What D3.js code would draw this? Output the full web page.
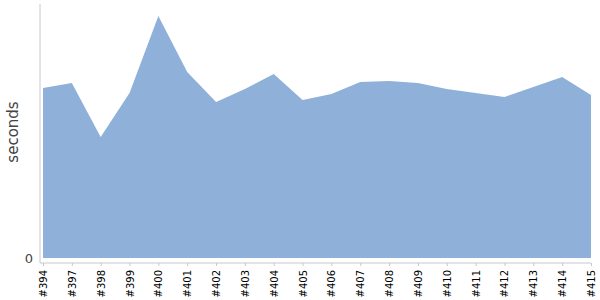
<!DOCTYPE html>
<html>
<head>
<meta charset="utf-8">
<script src="https://cdn.jsdelivr.net/npm/d3@7"></script>
<style>
body { margin: 0; background: #fff; }
</style>
</head>
<body>
<div id="chart"></div>
<script>
// build numbers and their run time (seconds)
var builds = ["#394","#397","#398","#399","#400","#401","#402","#403","#404","#405",
              "#406","#407","#408","#409","#410","#411","#412","#413","#414","#415"];
var seconds = [66.9, 68.9, 47.6, 65.0, 95.3, 73.2, 61.4, 66.5, 72.4, 62.2,
               64.6, 69.3, 69.7, 68.9, 66.5, 65.0, 63.4, 67.3, 71.3, 64.2];
var yTicks = [0];

var width = 600, height = 300;

var svg = d3.select("#chart").append("svg")
    .attr("width", width)
    .attr("height", height)
    .style("font-family", "DejaVu Sans, Verdana, sans-serif");

var x = d3.scalePoint()
    .domain(builds)
    .range([43, 591]);

var y = d3.scaleLinear()
    .domain([0, 100])
    .range([258, 4]);

var data = builds.map((b, i) => ({build: b, value: seconds[i]}));

svg.append("path")
    .datum(data)
    .attr("fill", "#8fb1d9")
    .attr("d", d3.area()
        .x(d => x(d.build))
        .y0(y(0))
        .y1(d => y(d.value)));

// y axis line
svg.append("line")
    .attr("x1", 40).attr("x2", 40)
    .attr("y1", 4).attr("y2", 263)
    .attr("stroke", "#c8c8c8");

// x axis
var xAxis = svg.append("g")
    .attr("transform", "translate(0,263)")
    .call(d3.axisBottom(x).tickSize(3).tickSizeOuter(0));
xAxis.select(".domain").remove();
xAxis.append("line")
    .attr("x1", 40).attr("x2", 591)
    .attr("stroke", "#c8c8c8");
xAxis.selectAll(".tick line").attr("stroke", "#c8c8c8");
xAxis.selectAll(".tick text")
    .attr("fill", "#000")
    .style("font-size", "10px")
    .style("font-family", "DejaVu Sans, Verdana, sans-serif")
    .attr("text-anchor", "end")
    .attr("transform", "rotate(-90)")
    .attr("x", -7)
    .attr("y", 0)
    .attr("dy", "0.35em");

// y tick labels
svg.selectAll(".ytick")
    .data(yTicks)
    .enter().append("text")
    .attr("class", "ytick")
    .attr("x", 33)
    .attr("y", d => y(d))
    .attr("dy", "0.35em")
    .attr("text-anchor", "end")
    .attr("fill", "#444")
    .style("font-size", "13px")
    .text(d => d);

svg.append("text")
    .attr("transform", "translate(18,132) rotate(-90)")
    .attr("text-anchor", "middle")
    .attr("fill", "#444")
    .style("font-size", "15px")
    .text("seconds");
</script>
</body>
</html>
